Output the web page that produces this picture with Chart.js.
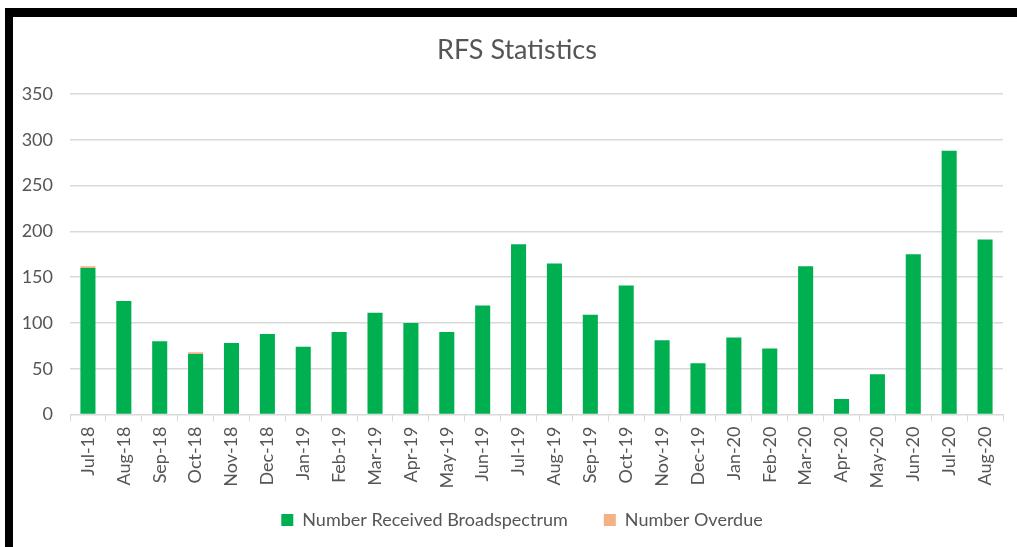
<!DOCTYPE html>
<html>
<head>
<meta charset="utf-8">
<script src="https://cdn.jsdelivr.net/npm/chart.js@4/dist/chart.umd.min.js"></script>
<style>
  html, body { margin: 0; padding: 0; background: #fff; }
  #wrap { position: relative; width: 1017px; height: 547px; overflow: hidden; }
  #frame {
    position: absolute; left: 5px; top: 8px; width: 1040px; height: 560px;
    border-top: 9px solid #000; border-left: 8px solid #000; box-sizing: border-box;
  }
  #box { position: absolute; left: 0; top: 0; width: 1017px; height: 547px; }
</style>
</head>
<body>
<div id="wrap">
  <div id="frame"></div>
  <div id="box"><canvas id="myChart"></canvas></div>
</div>
<script>
// Meses del reporte
const months = [
  "Jul-18", "Aug-18", "Sep-18", "Oct-18", "Nov-18", "Dec-18", "Jan-19", "Feb-19", "Mar-19",
  "Apr-19", "May-19", "Jun-19", "Jul-19", "Aug-19", "Sep-19", "Oct-19", "Nov-19", "Dec-19",
  "Jan-20", "Feb-20", "Mar-20", "Apr-20", "May-20", "Jun-20", "Jul-20", "Aug-20"
];

// Solicitudes recibidas por mes
const received = [
  160, 124, 80, 66, 78, 88, 74, 90, 111,
  100, 90, 119, 186, 165, 109, 141, 81, 56,
  84, 72, 162, 17, 44, 175, 288, 191
];

// Solicitudes vencidas por mes
const overdue = [
  2, 0, 0, 2, 0, 0, 0, 0, 0,
  0, 0, 0, 0, 0, 0, 0, 0, 0,
  0, 0, 0, 0, 0, 0, 0, 0
];

const yTicks = [0, 50, 100, 150, 200, 250, 300, 350];

const textColor = '#555555';
const gridColor = '#d9d9d9';
const fontFamily = 'Lato, "Open Sans", sans-serif';

// Centrar título y leyenda sobre el marco y dejar espacio a las etiquetas rotadas
const adjustBlocks = {
  id: 'adjustBlocks',
  afterLayout(chart) {
    if (chart.titleBlock) { chart.titleBlock.left += 31; chart.titleBlock.width -= 31; }
    if (chart.legend) { chart.legend.left += 41; chart.legend.width -= 41; }
    const x = chart.scales.x;
    x.bottom += 30;
    x.height += 30;
  }
};

const ctx = document.getElementById('myChart').getContext('2d');

const chart = new Chart(ctx, {
  type: 'bar',
  data: {
    labels: months,
    datasets: [
      {
        label: 'Number Received Broadspectrum',
        data: received,
        backgroundColor: '#00b050',
        barPercentage: 0.42,
        categoryPercentage: 1
      },
      {
        label: 'Number Overdue',
        data: overdue,
        backgroundColor: '#f4b183',
        barPercentage: 0.42,
        categoryPercentage: 1
      }
    ]
  },
  plugins: [adjustBlocks],
  options: {
    responsive: true,
    maintainAspectRatio: false,
    animation: false,
    layout: { padding: { left: 0, right: 14, top: 0, bottom: 8 } },
    plugins: {
      title: {
        display: true,
        text: 'RFS Statistics',
        color: textColor,
        font: { family: fontFamily, size: 27, weight: 'normal' },
        padding: { top: 34, bottom: 27.6 }
      },
      legend: {
        position: 'bottom',
        labels: {
          color: textColor,
          font: { family: fontFamily, size: 18 },
          boxWidth: 12,
          boxHeight: 12,
          padding: 36
        }
      },
      tooltip: { enabled: false }
    },
    scales: {
      x: {
        stacked: true,
        grid: {
          display: true,
          drawOnChartArea: false,
          drawTicks: true,
          tickLength: 7,
          color: gridColor
        },
        border: { color: gridColor },
        ticks: {
          color: textColor,
          font: { family: fontFamily, size: 18 },
          minRotation: 90,
          maxRotation: 90,
          padding: 5,
          autoSkip: false
        },
        afterFit: (scale) => { scale.height = 60.5; }
      },
      y: {
        stacked: true,
        min: 0,
        max: 350,
        afterBuildTicks: (scale) => { scale.ticks = yTicks.map(v => ({ value: v })); },
        grid: { color: gridColor, lineWidth: 1.5, drawTicks: false },
        border: { display: false },
        ticks: {
          color: textColor,
          font: { family: fontFamily, size: 18 },
          padding: 17
        },
        afterFit: (scale) => { scale.width = 70; }
      }
    }
  }
});
</script>
</body>
</html>
